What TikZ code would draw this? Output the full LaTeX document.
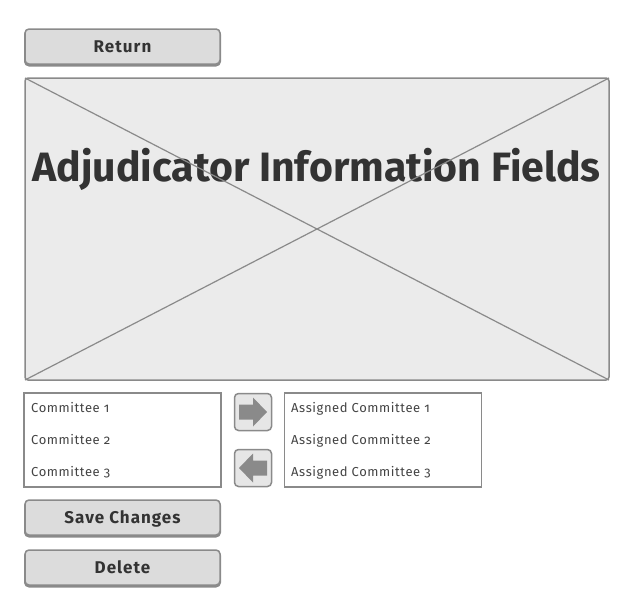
\documentclass[tikz,border=0pt]{standalone}
\usepackage{fontspec}
\setmainfont{Fira Sans}
\newfontfamily\boutonfont[LetterSpace=6]{Fira Sans}
\newfontfamily\listfont[Numbers=OldStyle, LetterSpace=4.5]{Fira Sans}
\definecolor{edgegray}{HTML}{8A8A8A}
\definecolor{btnfill}{HTML}{DCDCDC}
\definecolor{panefill}{HTML}{EBEBEB}
\definecolor{movefill}{HTML}{E6E6E6}
\definecolor{inkgray}{HTML}{333333}
\definecolor{itemgray}{HTML}{444444}
\begin{document}
\begin{tikzpicture}[x=1pt, y=-1pt]
\tikzset{bouton/.style={draw=edgegray, line width=1.5pt, fill=btnfill, rounded corners=4pt,
    minimum width=195, minimum height=35, text=inkgray, text height=12pt, text depth=0pt,
    font=\boutonfont\bfseries\fontsize{17}{20}\selectfont,
    preaction={draw=edgegray, line width=2pt, transform canvas={yshift=-1.5pt}}},
  liste/.style={draw=edgegray, line width=1.5pt, fill=white, minimum width=197, minimum height=94},
  element/.style={anchor=base west, inner sep=0pt, text=itemgray, font=\listfont\fontsize{13}{15}\selectfont},
  deplace/.style={draw=edgegray, line width=1.5pt, fill=movefill, rounded corners=4pt,
    minimum width=37, minimum height=37}}
\useasboundingbox (0,0) rectangle (631,608);
% boutons du haut
\node[bouton] (Retour) at (122.5,46.5) {Return};
% zone des champs
\draw[draw=edgegray, line width=1.5pt, fill=panefill, rounded corners=3pt] (25,78) rectangle (609,380);
\node[anchor=base, inner sep=0pt, text=inkgray, font=\bfseries\fontsize{41}{49}\selectfont] (Champs) at (316.5,181.7) {Adjudicator Information Fields};
\coordinate (C1) at (25,78);
\coordinate (C2) at (609,78);
\coordinate (C3) at (609,380);
\coordinate (C4) at (25,380);
\draw[edgegray, line width=1.2pt] (C1) -- (C3);
\draw[edgegray, line width=1.2pt] (C2) -- (C4);
% listes
\node[liste] (Gauche) at (122.5,440) {};
\node[element] (G1) at (31,412.3) {Committee 1};
\node[element] (G2) at (31,444.3) {Committee 2};
\node[element] (G3) at (31,476.3) {Committee 3};
\node[liste] (Droite) at (383,440) {};
\node[element] (D1) at (291,412.3) {Assigned Committee 1};
\node[element] (D2) at (291,444.3) {Assigned Committee 2};
\node[element] (D3) at (291,476.3) {Assigned Committee 3};
% fleches
\node[deplace] (Ajout) at (253,412) {};
\node[deplace] (Retrait) at (253,468) {};
\fill[edgegray, shift={(Ajout.center)}] (-14,-7.5) -- (0,-7.5) -- (0,-14.5) -- (14,0) -- (0,14.5) -- (0,7.5) -- (-14,7.5) -- cycle;
\fill[edgegray, shift={(Retrait.center)}] (14,-7.5) -- (0,-7.5) -- (0,-14.5) -- (-14,0) -- (0,14.5) -- (0,7.5) -- (14,7.5) -- cycle;
% boutons du bas
\node[bouton] (Sauver) at (122.5,517.5) {Save Changes};
\node[bouton] (Effacer) at (122.5,567.5) {Delete};
\end{tikzpicture}
\end{document}
